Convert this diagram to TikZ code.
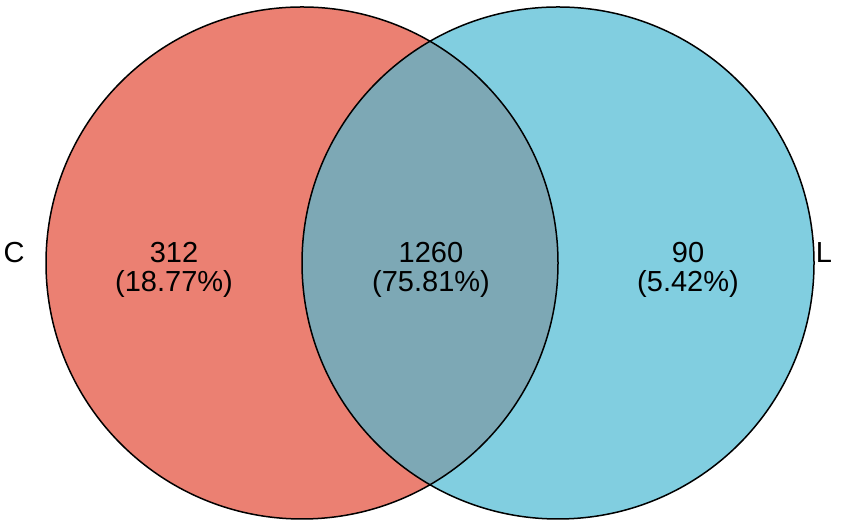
\documentclass[tikz,border=0pt]{standalone}
\usepackage{fontspec}
\setmainfont{Liberation Sans}
\definecolor{setC}{RGB}{235,128,114}
\definecolor{setL}{RGB}{129,206,224}
\definecolor{setCL}{RGB}{125,168,181}
\tikzset{count/.style={align=center,anchor=base,font=\fontsize{29}{29}\selectfont}}
\begin{document}
\begin{tikzpicture}[x=1pt,y=1pt]
\useasboundingbox (0,0) rectangle (862,526);

\coordinate (cC) at (302,263);
\coordinate (cL) at (558,263);
\fill[setC] (cC) circle(256);
\fill[setL] (cL) circle(256);
\begin{scope}
\clip (cC) circle(256);
\fill[setCL] (cL) circle(256);
\end{scope}
\draw[line width=1.5pt] (cC) circle(256);
\draw[line width=1.5pt] (cL) circle(256);

\node[count] (nC) at (174,234) {312\\(18.77\%)};
\node[count] (nCL) at (431,234) {1260\\(75.81\%)};
\node[count] (nL) at (688,234) {90\\(5.42\%)};
\node[count] (tC) at (14,263) {C};
\node[count] (tL) at (824,263) {L};

\end{tikzpicture}
\end{document}
